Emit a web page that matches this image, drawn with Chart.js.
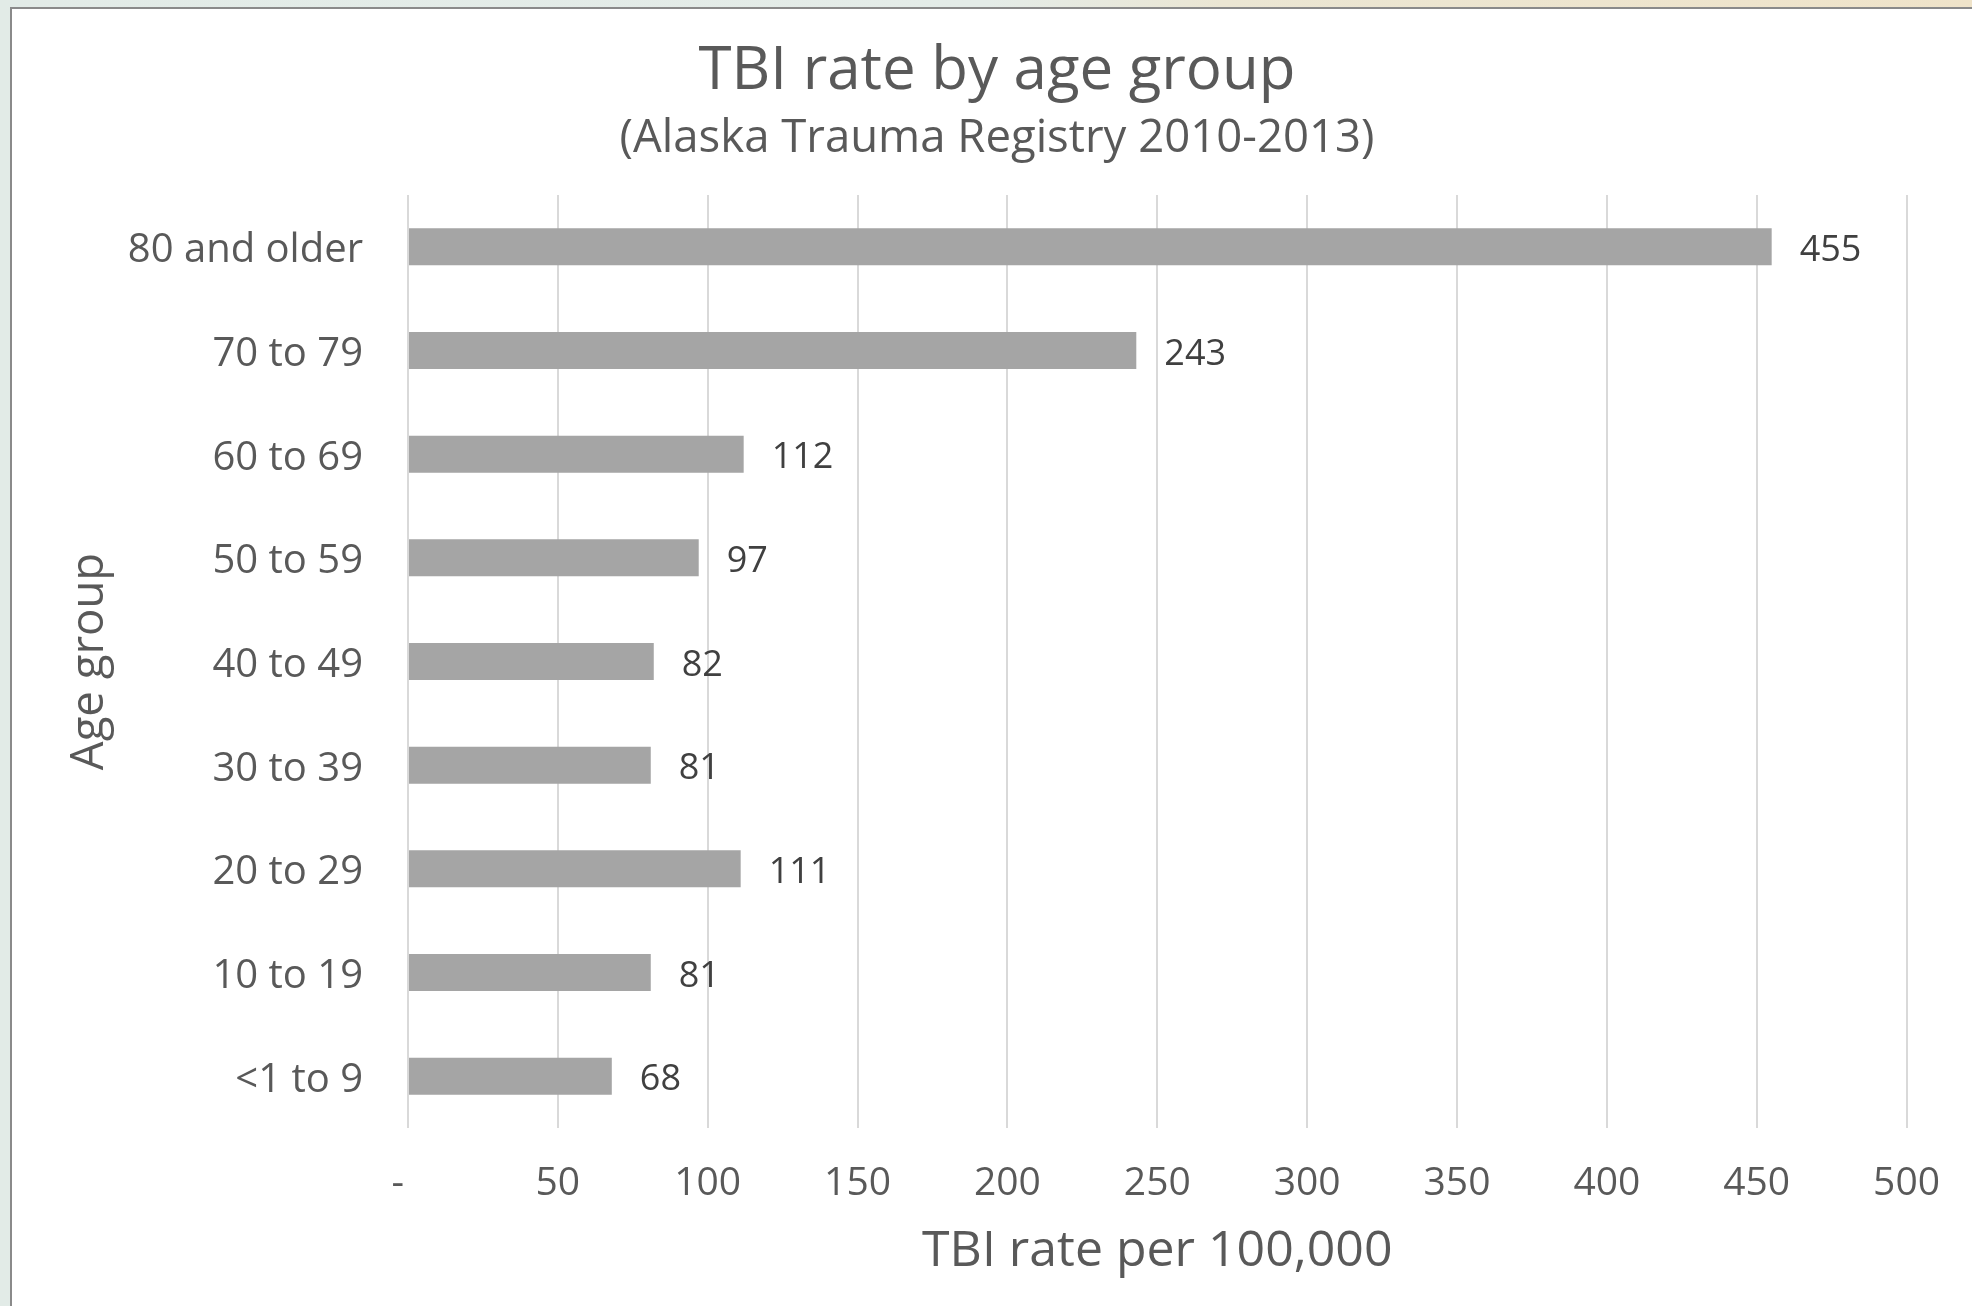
<!DOCTYPE html>
<html>
<head>
<meta charset="utf-8">
<script src="https://cdn.jsdelivr.net/npm/chart.js@4.4.1/dist/chart.umd.min.js"></script>
<style>
  html, body { margin: 0; padding: 0; width: 1972px; height: 1306px; overflow: hidden;
    background: linear-gradient(to right, #e2ebe7 0%, #e4ece8 50%, #ebe6d3 62%, #efe3c9 100%); }
  #panel { position: absolute; left: 10px; top: 7px; width: 2100px; height: 1400px;
    background: #ffffff; border: 2px solid #8a8a8a; box-sizing: border-box; }
  #wrap { position: absolute; left: 0; top: 0; width: 1972px; height: 1306px; }
</style>
</head>
<body>
<div id="panel"></div>
<div id="wrap"><canvas id="c" width="1972" height="1306"></canvas></div>
<script>
// ---- data (top-to-bottom order as shown) ----
const categories = ["80 and older", "70 to 79", "60 to 69", "50 to 59", "40 to 49", "30 to 39", "20 to 29", "10 to 19", "<1 to 9"];
const rates = [455, 243, 112, 97, 82, 81, 111, 81, 68];
const xTickMin = 0;
const xTickMax = 500;
const xTickStep = 50;
const chartTitle = "TBI rate by age group";
const chartSubtitle = "(Alaska Trauma Registry 2010-2013)";
const xAxisTitle = "TBI rate per 100,000";
const yAxisTitle = "Age group";

const FONT = "'Open Sans', 'DejaVu Sans', sans-serif";
const TXT = "#595959";

const valueLabels = {
  id: 'valueLabels',
  afterDatasetsDraw(chart) {
    const ctx = chart.ctx;
    const meta = chart.getDatasetMeta(0);
    ctx.save();
    ctx.font = "36px " + FONT;
    ctx.fillStyle = "#404040";
    ctx.textAlign = "left";
    ctx.textBaseline = "middle";
    meta.data.forEach((bar, i) => {
      ctx.fillText(String(rates[i]), bar.x + 28, bar.y + 4);
    });
    ctx.restore();
  }
};

const chart = new Chart(document.getElementById('c'), {
  type: 'bar',
  data: {
    labels: categories,
    datasets: [{
      data: rates,
      backgroundColor: '#a5a5a5',
      borderWidth: 0,
      barPercentage: 0.357,
      categoryPercentage: 1.0
    }]
  },
  options: {
    indexAxis: 'y',
    responsive: false,
    animation: false,
    devicePixelRatio: 1,
    layout: { padding: { left: 22, right: 0, top: 8, bottom: 0 } },
    plugins: {
      legend: { display: false },
      tooltip: { enabled: false },
      title: {
        display: true, text: chartTitle, color: TXT,
        font: { family: FONT, size: 60, weight: 'normal' },
        padding: { top: 28, bottom: 0 }
      },
      subtitle: {
        display: true, text: chartSubtitle, color: TXT,
        font: { family: FONT, size: 45.5, weight: 'normal' },
        padding: { top: 4, bottom: 28.4 }
      }
    },
    scales: {
      x: {
        type: 'linear', position: 'bottom',
        min: xTickMin, max: xTickMax,
        ticks: {
          stepSize: xTickStep, color: TXT, padding: 32,
          font: { family: FONT, size: 39 },
          callback: (v) => v === 0 ? '-  ' : String(v)
        },
        grid: { color: '#d9d9d9', lineWidth: 2, drawTicks: false },
        border: { display: false },
        title: {
          display: true, text: xAxisTitle, color: TXT,
          font: { family: FONT, size: 50 },
          padding: { top: 0, bottom: 24.5 }
        },
        afterFit: (s) => { s.height = 178; }
      },
      y: {
        type: 'category', position: 'left',
        ticks: { color: TXT, padding: 45, labelOffset: 4, font: { family: FONT, size: 40 } },
        grid: { display: false, drawTicks: false },
        border: { display: false },
        title: {
          display: true, text: yAxisTitle, color: TXT,
          font: { family: FONT, size: 45.5 },
          padding: { top: 41.2, bottom: 0 }
        },
        afterFit: (s) => { s.width = 386; }
      },
      yRight: {
        type: 'category', position: 'right', display: true,
        ticks: { display: false },
        grid: { display: false, drawTicks: false },
        border: { display: false },
        afterFit: (s) => { s.width = 64; }
      }
    }
  },
  plugins: [valueLabels]
});
if (document.fonts && document.fonts.ready) {
  document.fonts.ready.then(() => chart.update());
}
</script>
</body>
</html>
